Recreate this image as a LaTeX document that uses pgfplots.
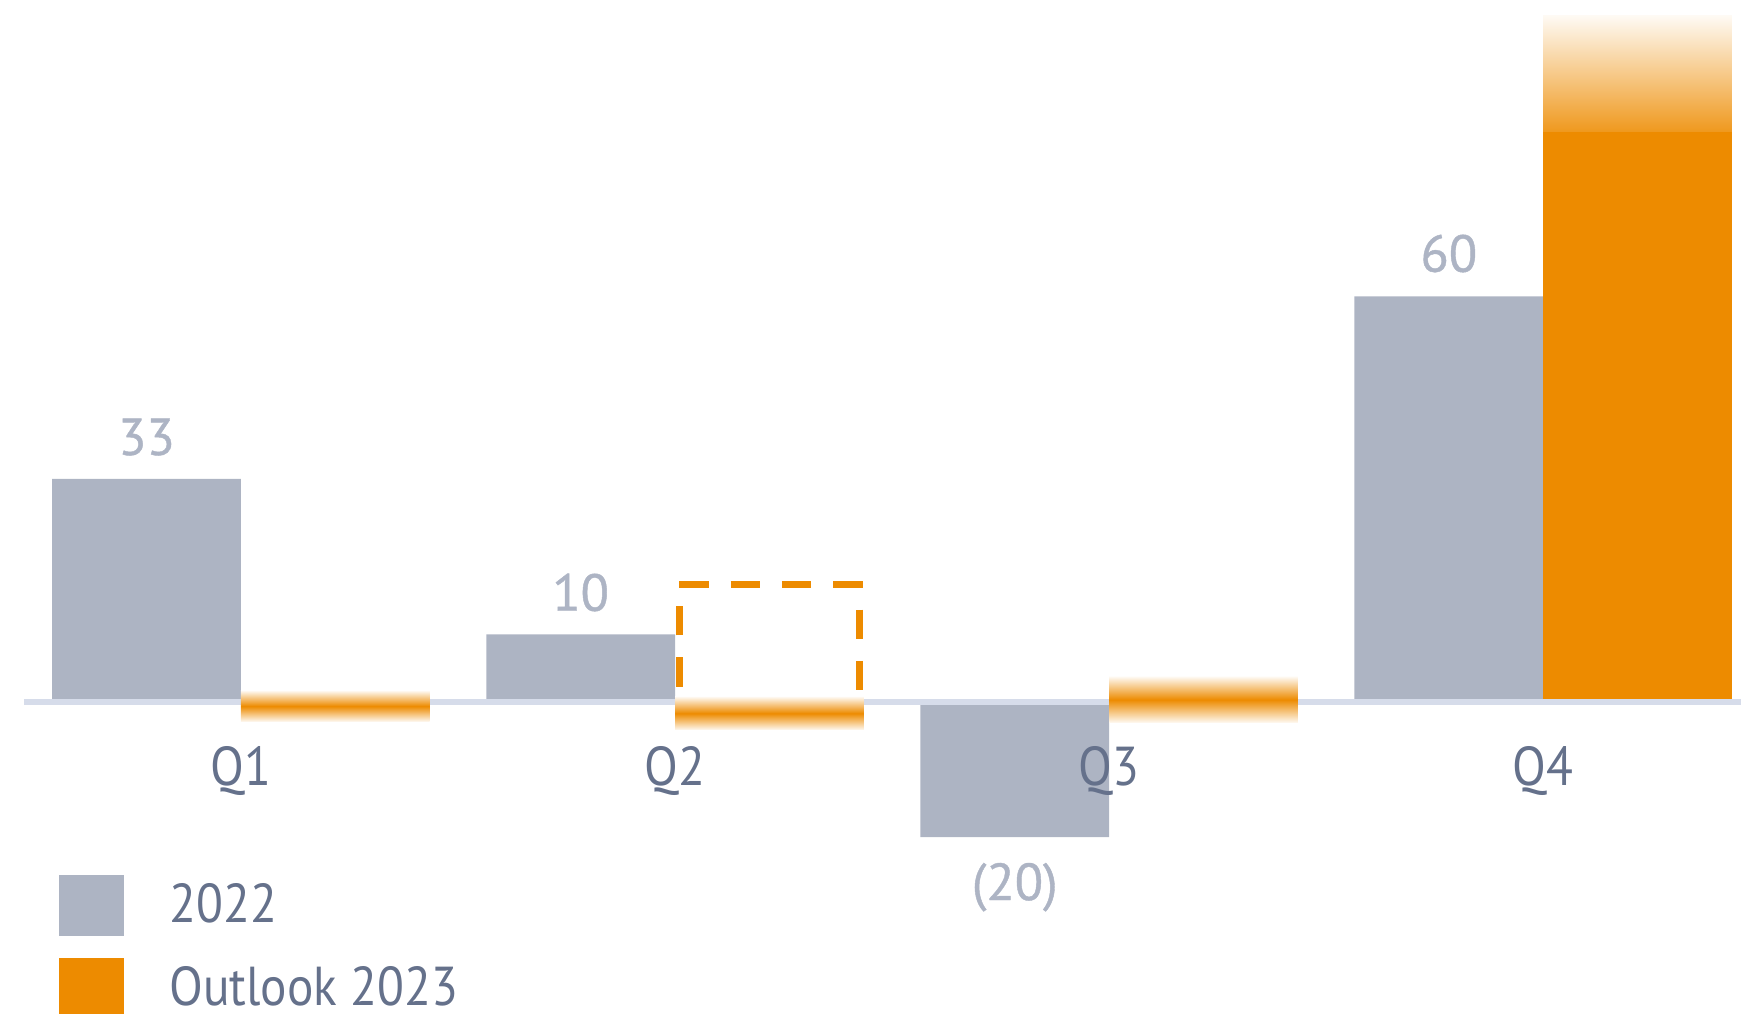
\documentclass[border=0pt]{standalone}
\usepackage{pgfplots}
\pgfplotsset{compat=1.18}
\usepackage{fontspec}
\setmainfont{PT Sans}[FakeStretch=0.9]
\newfontfamily\valfont{PT Sans}[FakeBold=0.8]
\definecolor{bar22}{HTML}{ADB4C3}
\definecolor{orangeC}{HTML}{ED8B00}
\definecolor{baseC}{HTML}{D6DCEA}
\definecolor{catC}{HTML}{65718B}
\definecolor{valC}{HTML}{ADB4C4}
\tikzset{
  catlabel/.style={anchor=base, inner sep=0pt, text=catC, font=\fontsize{15.6}{18}\selectfont},
  vallabel/.style={anchor=base, inner sep=0pt, text=valC, font=\valfont\fontsize{14.8}{18}\selectfont},
  band/.style={draw=none, top color=orangeC!5!white, bottom color=orangeC!5!white, middle color=orangeC},
}

\begin{document}
\begin{tikzpicture}
\begin{axis}[
    name=ax,
    scale only axis,
    width=17.41cm, height=10.13cm,
    xmin=0.44506, xmax=4.45565,
    ymin=-46.006, ymax=103.846,
    hide axis,
    clip=false,
    legend style={at={(0.03389,0.13623)}, anchor=north west, draw=none, fill=none,
        inner sep=0pt, outer sep=0pt, row sep=0.217cm, column sep=0.45cm,
        font=\fontsize{15.6}{18}\selectfont, text=catC,
        nodes={inner sep=0pt}},
    legend cell align=left,
]
% 2022
\addplot[ybar, bar width=0.4348, bar shift=-0.2174, fill=bar22, draw=none, forget plot]
  coordinates {(1,33)(2,10)(3,-20)(4,60)};
% Outlook 2023, Q4
\addplot[ybar, bar width=0.4348, bar shift=0.2174, fill=orangeC, draw=none, forget plot]
  coordinates {(4,84.4)};
% baseline
\addplot[draw=baseC, line width=0.06cm, forget plot] coordinates {(0.50035,0)(4.45565,0)};
% Q4 upside fade
\addplot[draw=none, top color=orangeC!4!white, bottom color=orangeC!88!white, forget plot]
  coordinates {(4,84.4)(4.4348,84.4)(4.4348,101.6)(4,101.6)} -- cycle;
% Outlook 2023 around zero, Q1-Q3
\addplot[band, forget plot] coordinates {(1,-2.91)(1.4348,-2.91)(1.4348,1.67)(1,1.67)} -- cycle;
\addplot[band, forget plot] coordinates {(2,-4.14)(2.4348,-4.14)(2.4348,0.78)(2,0.78)} -- cycle;
\addplot[band, forget plot] coordinates {(3,-3.06)(3.4348,-3.06)(3.4348,3.74)(3,3.74)} -- cycle;
% Q2 upside range
\addplot[draw=orangeC, line width=0.07cm, dash pattern=on 0.293cm off 0.22cm, forget plot]
  coordinates {(2.0099,2.26)(2.0099,17.43)(2.4243,17.43)(2.4243,1.7)};

\addlegendimage{legend image code/.code={\fill[bar22] (0cm,-0.30cm) rectangle (0.64cm,0.30cm);}}
\addlegendentry{2022}
\addlegendimage{legend image code/.code={\fill[orangeC] (0cm,-0.30cm) rectangle (0.64cm,0.30cm);}}
\addlegendentry{Outlook 2023}

% category labels
\node[catlabel] at (axis cs:1,-12.28) {Q1};
\node[catlabel] at (axis cs:2,-12.28) {Q2};
\node[catlabel] at (axis cs:3,-12.28) {Q3};
\node[catlabel] at (axis cs:4,-12.28) {Q4};
% value labels
\node[vallabel] at (axis cs:0.7826,36.54) {33};
\node[vallabel] at (axis cs:1.7826,13.5) {10};
\node[vallabel] at (axis cs:2.7826,-29.29) {(20)};
\node[vallabel] at (axis cs:3.7826,63.65) {60};
\end{axis}
\pgfresetboundingbox
\path[use as bounding box] (ax.south west) rectangle (ax.north east);
\end{tikzpicture}
\end{document}
